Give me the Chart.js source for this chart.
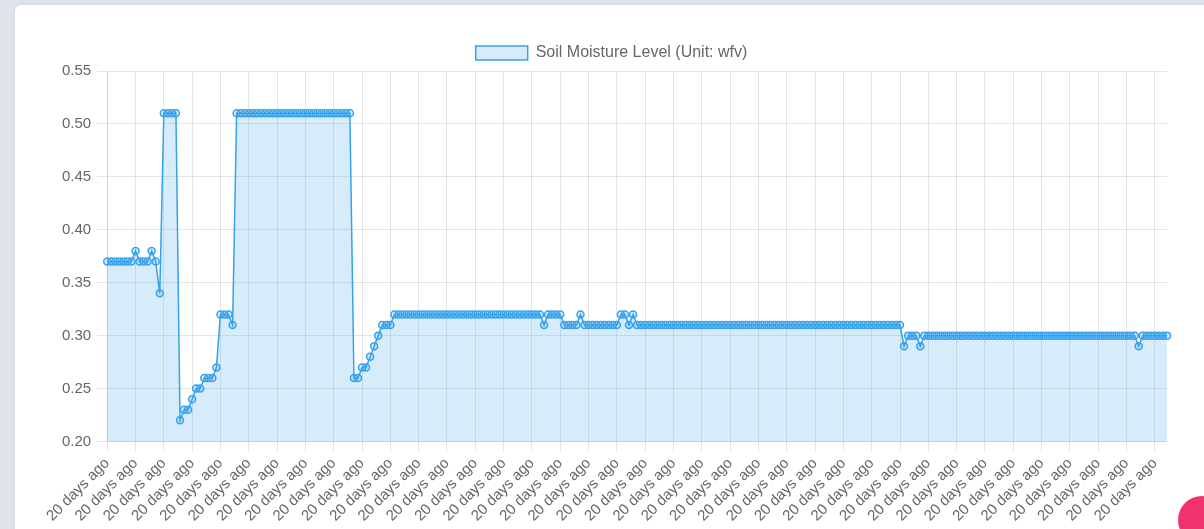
<!DOCTYPE html>
<html>
<head>
<meta charset="utf-8">
<script src="https://cdn.jsdelivr.net/npm/chart.js"></script>
<style>
  html, body { margin: 0; padding: 0; }
  body {
    width: 1204px; height: 529px; overflow: hidden; position: relative;
    background: #dfe4ec;
  }
  .card {
    position: absolute; left: 15px; top: 5px; width: 1200px; height: 540px;
    background: #fff; border-radius: 6px;
    box-shadow: 0 0 4px rgba(0, 0, 0, 0.08);
  }
  #moisture-chart { position: absolute; left: 0; top: 0; }
  .fab {
    position: absolute; left: 1178px; top: 496px; width: 48px; height: 48px;
    border-radius: 50%; background: #f0336c;
  }
</style>
</head>
<body>
<div class="card"></div>
<canvas id="moisture-chart" width="1204" height="529"></canvas>
<div class="fab"></div>

<script>
const seriesName = "Soil Moisture Level (Unit: wfv)";
const tickLabel = "20 days ago";
const yTicks = [0.20, 0.25, 0.30, 0.35, 0.40, 0.45, 0.50, 0.55];

// one reading per point left to right
const moisture = [
    0.37, 0.37, 0.37, 0.37, 0.37, 0.37, 0.37, 0.38, 0.37, 0.37, 0.37, 0.38, 0.37, 0.34,
    0.51, 0.51, 0.51, 0.51, 0.22, 0.23, 0.23, 0.24, 0.25, 0.25, 0.26, 0.26, 0.26, 0.27,
    0.32, 0.32, 0.32, 0.31,
    0.51, 0.51, 0.51, 0.51, 0.51, 0.51, 0.51, 0.51, 0.51, 0.51,
    0.51, 0.51, 0.51, 0.51, 0.51, 0.51, 0.51, 0.51, 0.51, 0.51,
    0.51, 0.51, 0.51, 0.51, 0.51, 0.51, 0.51, 0.51, 0.51,
    0.26, 0.26, 0.27, 0.27, 0.28, 0.29, 0.30, 0.31, 0.31, 0.31,
    0.32, 0.32, 0.32, 0.32, 0.32, 0.32, 0.32, 0.32, 0.32, 0.32,
    0.32, 0.32, 0.32, 0.32, 0.32, 0.32, 0.32, 0.32, 0.32, 0.32,
    0.32, 0.32, 0.32, 0.32, 0.32, 0.32, 0.32, 0.32, 0.32, 0.32,
    0.32, 0.32, 0.32, 0.32, 0.32, 0.32, 0.32,
    0.31, 0.32, 0.32, 0.32, 0.32, 0.31, 0.31, 0.31, 0.31, 0.32,
    0.31, 0.31, 0.31, 0.31, 0.31, 0.31, 0.31, 0.31, 0.31,
    0.32, 0.32, 0.31, 0.32,
    0.31, 0.31, 0.31, 0.31, 0.31, 0.31, 0.31, 0.31, 0.31, 0.31,
    0.31, 0.31, 0.31, 0.31, 0.31, 0.31, 0.31, 0.31, 0.31, 0.31,
    0.31, 0.31, 0.31, 0.31, 0.31, 0.31, 0.31, 0.31, 0.31, 0.31,
    0.31, 0.31, 0.31, 0.31, 0.31, 0.31, 0.31, 0.31, 0.31, 0.31,
    0.31, 0.31, 0.31, 0.31, 0.31, 0.31, 0.31, 0.31, 0.31, 0.31,
    0.31, 0.31, 0.31, 0.31, 0.31, 0.31, 0.31, 0.31, 0.31, 0.31,
    0.31, 0.31, 0.31, 0.31, 0.31, 0.31,
    0.29, 0.30, 0.30, 0.30, 0.29,
    0.30, 0.30, 0.30, 0.30, 0.30, 0.30, 0.30, 0.30, 0.30, 0.30,
    0.30, 0.30, 0.30, 0.30, 0.30, 0.30, 0.30, 0.30, 0.30, 0.30,
    0.30, 0.30, 0.30, 0.30, 0.30, 0.30, 0.30, 0.30, 0.30, 0.30,
    0.30, 0.30, 0.30, 0.30, 0.30, 0.30, 0.30, 0.30, 0.30, 0.30,
    0.30, 0.30, 0.30, 0.30, 0.30, 0.30, 0.30, 0.30, 0.30, 0.30,
    0.30, 0.30, 0.30,
    0.29,
    0.30, 0.30, 0.30, 0.30, 0.30, 0.30, 0.30
];

const labels = moisture.map(() => tickLabel);

function drawChart() {
    const ctx = document.getElementById("moisture-chart").getContext("2d");

    Chart.defaults.font.family = "'Liberation Sans', Arial, sans-serif";
    Chart.defaults.color = "#666";

    new Chart(ctx, {
        type: "line",
        data: {
            labels: labels,
            datasets: [{
                label: seriesName,
                data: moisture,
                borderColor: "#36a2eb",
                backgroundColor: "rgba(54, 162, 235, 0.2)",
                borderWidth: 1.5,
                pointRadius: 3.5,
                pointBorderWidth: 1.5,
                pointBackgroundColor: "rgba(54, 162, 235, 0.2)",
                pointBorderColor: "#36a2eb",
                fill: true,
                tension: 0
            }]
        },
        options: {
            responsive: false,
            animation: false,
            layout: { padding: { top: 35, left: 56, right: 37, bottom: 1 } },
            plugins: {
                legend: {
                    labels: {
                        font: { size: 16 },
                        boxWidth: 52,
                        boxHeight: 14,
                        color: "#666"
                    }
                },
                tooltip: { enabled: false }
            },
            scales: {
                x: {
                    grid: { color: "rgba(0, 0, 0, 0.1)", tickLength: 10 },
                    ticks: {
                        autoSkip: false,
                        minRotation: 45,
                        maxRotation: 45,
                        font: { size: 15 },
                        // show every 7th label, like the reference
                        callback: (v, i) => (i % 7 === 0 ? labels[i] : null)
                    }
                },
                y: {
                    min: yTicks[0],
                    max: yTicks[yTicks.length - 1],
                    grid: { color: "rgba(0, 0, 0, 0.1)", tickLength: 10 },
                    ticks: {
                        stepSize: 0.05,
                        padding: 6,
                        font: { size: 15 },
                        callback: (v) => v.toFixed(2)
                    }
                }
            }
        }
    });
}

drawChart();
</script>
</body>
</html>
